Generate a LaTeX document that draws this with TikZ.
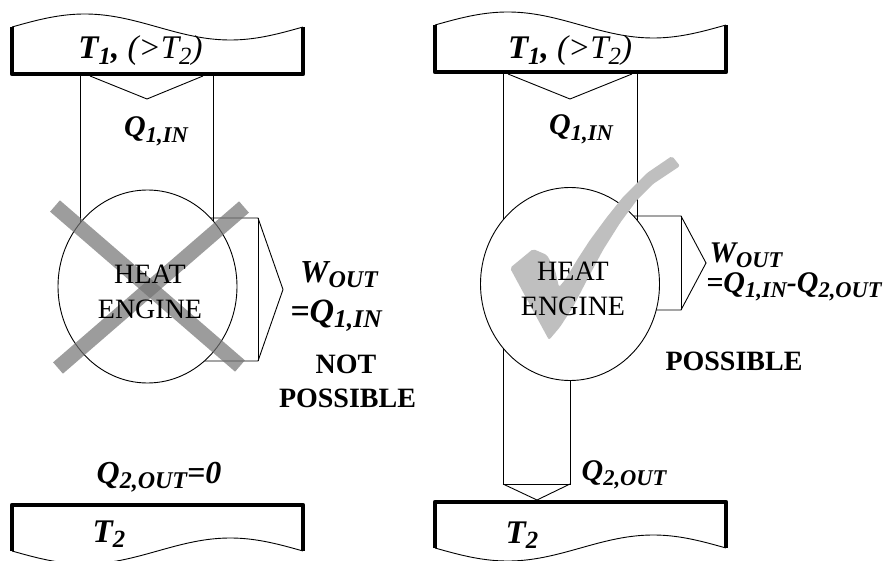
\documentclass[tikz,border=0pt]{standalone}
\usepackage{fontspec}
\setmainfont{Liberation Serif}
\usetikzlibrary{shapes.geometric}
\newcommand\lsub[1]{\raisebox{-0.17em}{\scalebox{0.75}{#1}}}

\begin{document}
\begin{tikzpicture}[
  x=1pt, y=-1pt,
  wall/.style={line width=4.5pt, line join=round},
  surf/.style={line width=0.9pt},
  band/.style={line width=0.9pt},
  engine/.style={draw, ellipse, fill=white, line width=0.9pt, minimum width=179pt, minimum height=193pt, inner sep=0pt},
  heat/.style={align=center, inner sep=0pt, font=\fontsize{28}{35}\selectfont},
  qty/.style={anchor=base, inner sep=0pt, font=\fontsize{30}{36}\selectfont\bfseries\itshape},
  temp/.style={qty, font=\fontsize{33}{40}\selectfont\bfseries\itshape},
  verdict/.style={anchor=base, inner sep=0pt, font=\fontsize{28}{34}\selectfont\bfseries},
  cross/.style={draw=black!55, draw opacity=0.7, line width=15pt},
  tick/.style={fill=black!25, draw=none, rounded corners=2pt}
]
\useasboundingbox (0,0) rectangle (888,561);
% ---- energy bands, left case (drawn first, engines cover them) ----
\draw[band] (80,76) -- (80,250);
\draw[band] (213,76) -- (213,250);
\draw[band] (90,76) -- (147,99) -- (203,76);
\draw[band] (150,218) -- (258,218) -- (283,289.5) -- (258,361) -- (150,361);
\draw[band] (258,218) -- (258,361);
% ---- energy bands, right case ----
\draw[band] (503,74) -- (503,484) -- (570,484) -- (570,330);
\draw[band] (637,74) -- (637,250);
\draw[band] (508,74) -- (570,99) -- (632,74);
\draw[band] (503,484) -- (537,500) -- (570,484);
\draw[band] (600,216) -- (681,216) -- (706,263) -- (681,310) -- (600,310);
\draw[band] (681,216) -- (681,310);
% ---- reservoirs ----
\draw[surf] plot[domain=0:1, samples=80, smooth] ({12+291*\x}, {27-13*sin(360*\x)});
\draw[wall] (12,27) -- (12,74) -- (303,74) -- (303,27);
\draw[surf] plot[domain=0:1, samples=80, smooth] ({435+291*\x}, {25-13*sin(360*\x)});
\draw[wall] (435,25) -- (435,72) -- (726,72) -- (726,25);
\draw[surf] plot[domain=0:1, samples=80, smooth] ({12+291*\x}, {551+13*sin(360*\x)});
\draw[wall] (12,551) -- (12,505) -- (303,505) -- (303,551);
\draw[surf] plot[domain=0:1, samples=80, smooth] ({435+291*\x}, {548+13*sin(360*\x)});
\draw[wall] (435,548) -- (435,502) -- (726,502) -- (726,548);
% ---- engines ----
\node[engine] (e1) at (147.5,286.5) {};
\node[engine] (e2) at (570,284) {};
% ---- marks ----
\draw[cross] (55,206) -- (240,366);
\draw[cross] (244,207) -- (58,368);
\fill[tick] (510,268) -- (533,249) -- (547,255) -- (555,270) -- (559,287) -- (565,280)
  -- (577,260) -- (590,240) -- (607,217) -- (623,197) -- (647,173) -- (672,156)
  -- (680,166) -- (653,184) -- (637,200) -- (620,223) -- (603,250) -- (587,280)
  -- (573,307) -- (560,327) -- (549,340) -- (530,305) -- cycle;
% ---- labels, left case ----
\node[temp] (t1a) at (140.5,59) {T\lsub{1}, {\mdseries(>T\lsub{2})}};
\node[qty] (q1a) at (156,137) {Q\lsub{1,IN}};
\node[heat] (h1) at (150,291.5) {HEAT\\ENGINE};
\node[qty, font=\fontsize{32}{38}\selectfont\bfseries\itshape] (wa) at (339,282) {W\lsub{OUT}};
\node[qty, font=\fontsize{34}{40}\selectfont\bfseries\itshape] (wa2) at (336,322) {=Q\lsub{1,IN}};
\node[verdict] (na) at (346,373) {NOT};
\node[verdict] (pa) at (347.5,407) {POSSIBLE};
\node[qty, font=\fontsize{32}{38}\selectfont\bfseries\itshape] (q2a) at (159,483) {Q\lsub{2,OUT}=0};
\node[temp] (t2a) at (109,542) {T\lsub{2}};
% ---- labels, right case ----
\node[temp] (t1b) at (570,59) {T\lsub{1}, {\mdseries(>T\lsub{2})}};
\node[qty] (q1b) at (581,135) {Q\lsub{1,IN}};
\node[heat] (h2) at (573,288.5) {HEAT\\ENGINE};
\node[qty] (wb) at (746,262) {W\lsub{OUT}};
\node[qty] (wb2) at (794,292) {=Q\lsub{1,IN}-Q\lsub{2,OUT}};
\node[verdict] (pb) at (734,370) {POSSIBLE};
\node[qty] (q2b) at (624,480) {Q\lsub{2,OUT}};
\node[temp] (t2b) at (522,543) {T\lsub{2}};
\end{tikzpicture}
\end{document}
